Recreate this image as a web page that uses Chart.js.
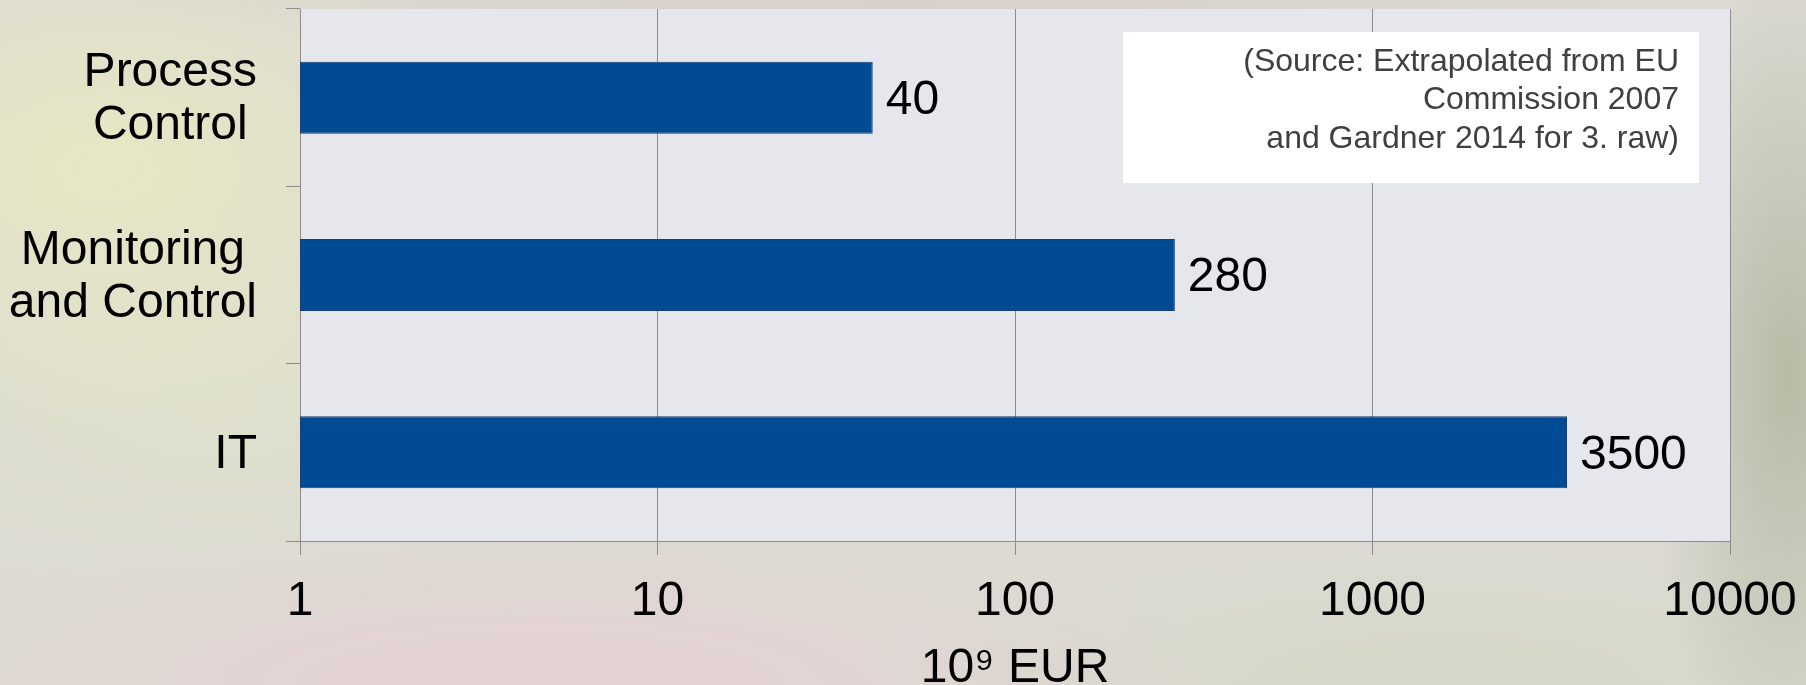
<!DOCTYPE html>
<html>
<head>
<meta charset="utf-8">
<script src="https://cdn.jsdelivr.net/npm/chart.js@4/dist/chart.umd.min.js"></script>
<style>
  html, body { margin: 0; padding: 0; width: 1806px; height: 685px; overflow: hidden; }
  body {
    background:
      radial-gradient(ellipse 140px 420px at 99% 55%, rgba(135,150,110,0.45), rgba(135,150,110,0) 100%),
      radial-gradient(ellipse 420px 260px at 6% 25%, rgba(236,236,190,0.75), rgba(236,236,190,0) 100%),
      radial-gradient(ellipse 500px 200px at 12% 60%, rgba(225,228,200,0.6), rgba(225,228,200,0) 100%),
      radial-gradient(ellipse 700px 160px at 30% 100%, rgba(232,205,210,0.7), rgba(232,205,210,0) 100%),
      radial-gradient(ellipse 600px 160px at 80% 100%, rgba(210,215,195,0.7), rgba(210,215,195,0) 100%),
      radial-gradient(ellipse 900px 40px at 50% 0%, rgba(215,205,200,0.8), rgba(215,205,200,0) 100%),
      #dcdad3;
  }
  #wrap { position: absolute; left: 0; top: 0; width: 1806px; height: 685px; }
</style>
</head>
<body>
<div id="wrap"><canvas id="c" width="1806" height="685"></canvas></div>
<script>
// ---- data ----
const categories = [["Process", "Control"], ["Monitoring", "and Control"], ["IT"]];
const values = [40, 280, 3500];
const xTicks = [1, 10, 100, 1000, 10000];
const axisTitle = "10\u2079 EUR";
const sourceLines = ["(Source: Extrapolated from EU", "Commission 2007", "and Gardner 2014 for 3. raw)"];

const FONT = "'Liberation Sans', Arial, sans-serif";

const plotBg = {
  id: 'plotBg',
  beforeDraw(chart) {
    const a = chart.chartArea, ctx = chart.ctx;
    ctx.save();
    ctx.fillStyle = '#e6e7ec';
    ctx.fillRect(a.left, a.top, a.right - a.left, a.bottom - a.top);
    ctx.restore();
  }
};

// category labels: each label block right-aligned next to the axis, its lines centred within the block
const categoryLabels = {
  id: 'categoryLabels',
  afterDraw(chart) {
    const ctx = chart.ctx, ys = chart.scales.y;
    const rightEdge = ys.right - 14 - 29;
    const lineH = 53;
    ctx.save();
    ctx.font = "48px " + FONT;
    ctx.fillStyle = '#000';
    ctx.textAlign = 'center';
    ctx.textBaseline = 'middle';
    chart.data.labels.forEach((lab, i) => {
      const lines = Array.isArray(lab) ? lab : [lab];
      const w = Math.max(...lines.map(l => ctx.measureText(l).width));
      const cx = rightEdge - w / 2;
      const cy = ys.getPixelForTick(i) + 2;
      lines.forEach((l, j) => {
        ctx.fillText(l, cx, cy + (j - (lines.length - 1) / 2) * lineH);
      });
    });
    ctx.restore();
  }
};

const valueLabels = {
  id: 'valueLabels',
  afterDatasetsDraw(chart) {
    const ctx = chart.ctx;
    const meta = chart.getDatasetMeta(0);
    ctx.save();
    ctx.font = "48px " + FONT;
    ctx.fillStyle = '#000';
    ctx.textAlign = 'left';
    ctx.textBaseline = 'middle';
    meta.data.forEach((bar, i) => {
      ctx.fillText(String(values[i]), bar.x + 13, bar.y + 3);
    });
    ctx.restore();
  }
};

const sourceBox = {
  id: 'sourceBox',
  afterDraw(chart) {
    const ctx = chart.ctx;
    ctx.save();
    ctx.fillStyle = '#ffffff';
    ctx.fillRect(1123, 32, 576, 151);
    ctx.font = "32px " + FONT;
    ctx.fillStyle = '#404040';
    ctx.textAlign = 'right';
    ctx.textBaseline = 'middle';
    sourceLines.forEach((t, i) => ctx.fillText(t, 1679, 62 + i * 38.5));
    ctx.restore();
  }
};

new Chart(document.getElementById('c'), {
  type: 'bar',
  data: {
    labels: categories,
    datasets: [{
      data: values,
      backgroundColor: '#004b93',
      borderColor: '#1d3c74',
      borderWidth: 1,
      borderSkipped: false,
      barPercentage: 0.406,
      categoryPercentage: 1.0
    }]
  },
  options: {
    indexAxis: 'y',
    responsive: false,
    animation: false,
    events: [],
    layout: { padding: { left: 0, top: 9, right: 76, bottom: 0 } },
    plugins: { legend: { display: false }, tooltip: { enabled: false } },
    scales: {
      x: {
        type: 'logarithmic',
        min: 1,
        max: 10000,
        afterBuildTicks(scale) { scale.ticks = xTicks.map(v => ({ value: v })); },
        afterFit(scale) { scale.height = 144; scale.paddingLeft = 0; scale.paddingRight = 0; },
        ticks: {
          callback: (v) => String(v),
          font: { family: FONT, size: 48 },
          color: '#000',
          padding: 18,
          maxRotation: 0,
          autoSkip: false
        },
        grid: { color: '#8c8c8c', lineWidth: 1, tickLength: 14, drawOnChartArea: true },
        border: { color: '#8c8c8c', width: 1 },
        title: {
          display: true,
          text: axisTitle,
          font: { family: FONT, size: 48 },
          color: '#000',
          padding: { top: 0, bottom: -13 }
        }
      },
      y: {
        afterFit(scale) { scale.width = 300; scale.paddingTop = 0; scale.paddingBottom = 0; },
        ticks: { display: false },
        grid: { offset: true, drawOnChartArea: false, color: '#8c8c8c', tickLength: 14 },
        border: { color: '#8c8c8c', width: 1 }
      }
    }
  },
  plugins: [plotBg, categoryLabels, valueLabels, sourceBox]
});
</script>
</body>
</html>
